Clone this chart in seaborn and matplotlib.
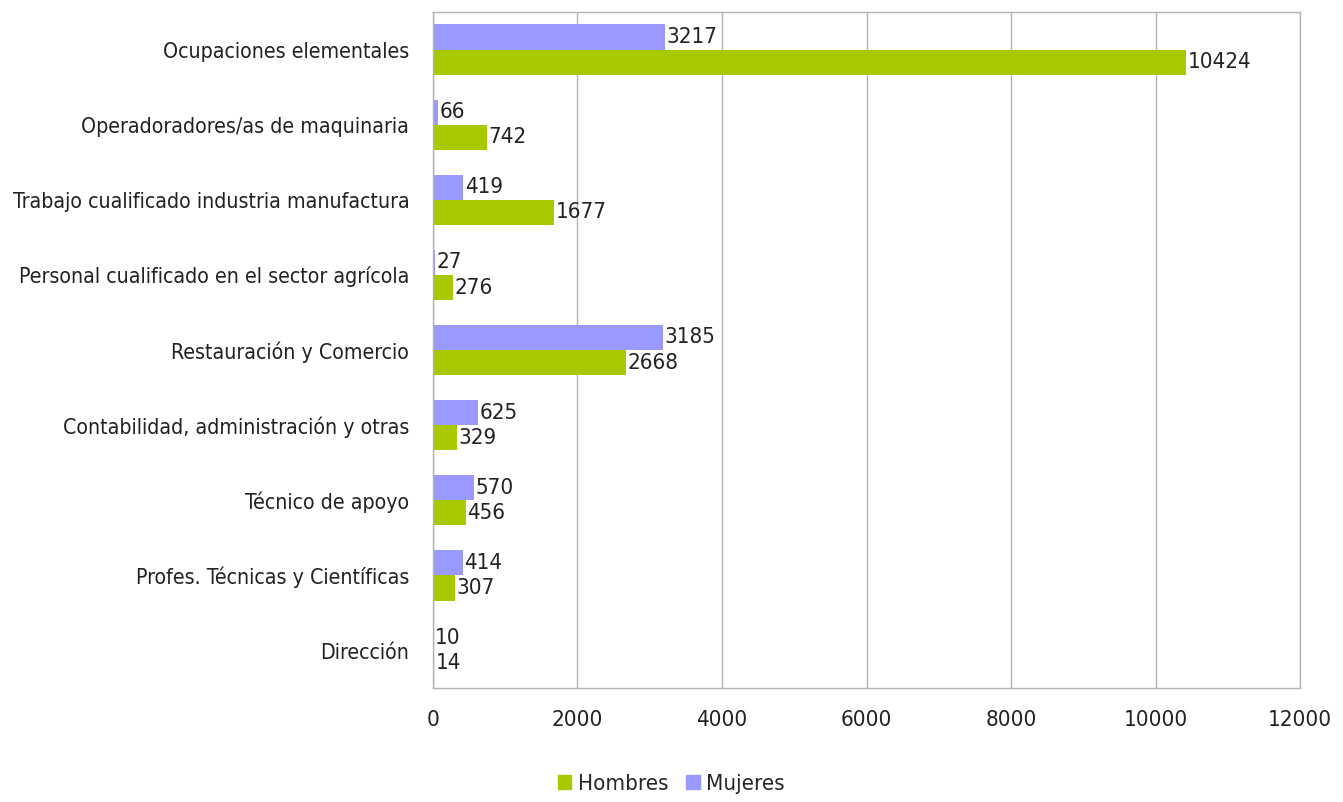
import matplotlib
matplotlib.use("Agg")
import matplotlib.pyplot as plt
from matplotlib.patches import Patch
import numpy as np
import pandas as pd
import seaborn as sns

categorias = [
    "Ocupaciones elementales",
    "Operadoradores/as de maquinaria",
    "Trabajo cualificado industria manufactura",
    "Personal cualificado en el sector agrícola",
    "Restauración y Comercio",
    "Contabilidad, administración y otras",
    "Técnico de apoyo",
    "Profes. Técnicas y Científicas",
    "Dirección",
]
mujeres = [3217, 66, 419, 27, 3185, 625, 570, 414, 10]
hombres = [10424, 742, 1677, 276, 2668, 329, 456, 307, 14]
xticks = [0, 2000, 4000, 6000, 8000, 10000, 12000]

col_muj = "#9999ff"
col_hom = "#a8c800"

sns.set_style("white")
# condensed face, close to the narrow font of the original
plt.rcParams["font.family"] = ["DejaVu Sans"]
plt.rcParams["font.stretch"] = "condensed"

df = pd.DataFrame({
    "cat": categorias * 2,
    "valor": mujeres + hombres,
    "sexo": ["Mujeres"] * len(categorias) + ["Hombres"] * len(categorias),
})

fig = plt.figure(figsize=(13.43, 8.02), dpi=100)
ax = fig.add_axes([0.3224, 0.142, 0.6456, 0.843])

sns.barplot(data=df, y="cat", x="valor", hue="sexo", order=categorias,
            hue_order=["Mujeres", "Hombres"],
            palette={"Mujeres": col_muj, "Hombres": col_hom},
            width=0.67, orient="h", ax=ax, legend=False, saturation=1,
            linewidth=0)

for cont in ax.containers:
    ax.bar_label(cont, padding=1, fontsize=16, color="#222222")

ax.set_xlim(0, 12000)
ax.set_ylim(len(categorias) - 0.5, -0.5)
ax.set_xticks(xticks)
ax.set_xticklabels([str(t) for t in xticks], fontsize=16, color="#222222")
ax.set_yticks(range(len(categorias)))
ax.set_yticklabels(categorias, fontsize=15.3, color="#222222")
ax.tick_params(axis="y", length=0, pad=17)
ax.set_yticks(np.arange(-0.5, len(categorias), 1), minor=True)
ax.tick_params(axis="y", which="minor", length=6, color="#999999", width=1)
ax.tick_params(axis="x", length=8, color="#999999", width=1, pad=8)
ax.xaxis.grid(True, color="#b3b3b3", linewidth=1)
ax.set_axisbelow(True)
for s in ax.spines.values():
    s.set_color("#b3b3b3")
    s.set_linewidth(1)
ax.set_xlabel("")
ax.set_ylabel("")

handles = [Patch(color=col_hom, label="Hombres"), Patch(color=col_muj, label="Mujeres")]
fig.legend(handles=handles, loc="lower center", bbox_to_anchor=(0.5, -0.015), ncol=2,
           frameon=False, fontsize=16, handlelength=0.6, handleheight=0.6,
           handletextpad=0.3, columnspacing=0.8)

fig.savefig("out.png", dpi=100)
